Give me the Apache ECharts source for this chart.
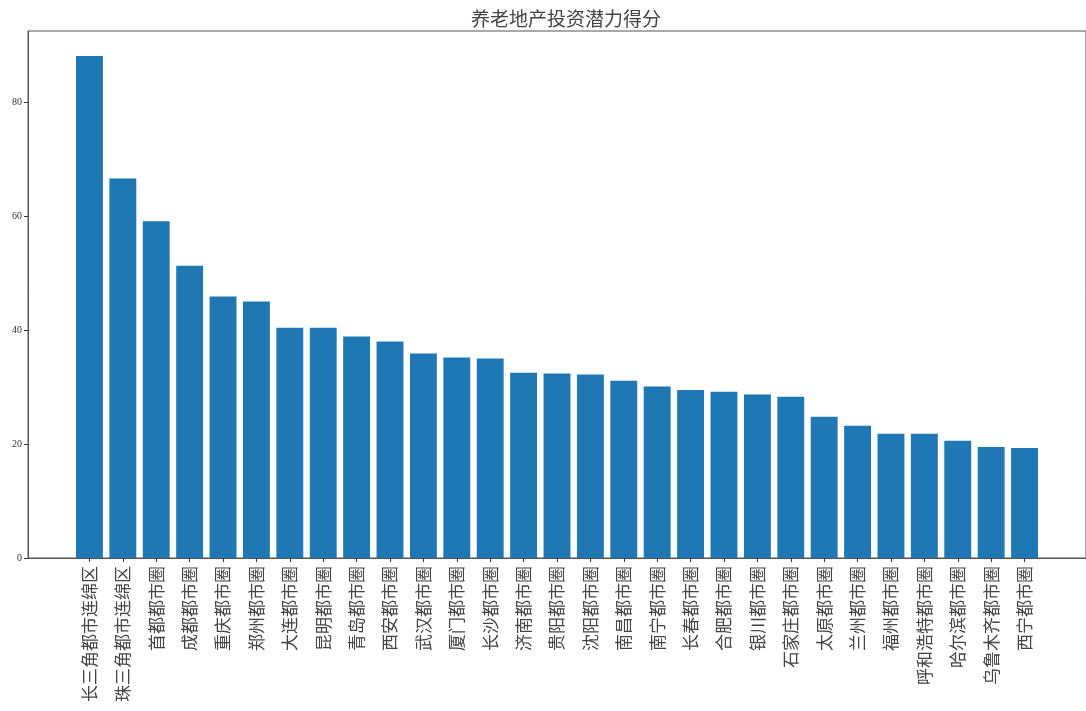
<!DOCTYPE html>
<html>
<head>
<meta charset="utf-8">
<script src="https://cdn.jsdelivr.net/npm/echarts@6/dist/echarts.min.js"></script>
<style>html,body{margin:0;padding:0;background:#fff}#c{width:1086px;height:711px}</style>
</head>
<body>
<div id="c"></div>
<script>
const titleText = '养老地产投资潜力得分';
const categories = ['长三角都市连绵区','珠三角都市连绵区','首都都市圈','成都都市圈','重庆都市圈','郑州都市圈','大连都市圈','昆明都市圈','青岛都市圈','西安都市圈','武汉都市圈','厦门都市圈','长沙都市圈','济南都市圈','贵阳都市圈','沈阳都市圈','南昌都市圈','南宁都市圈','长春都市圈','合肥都市圈','银川都市圈','石家庄都市圈','太原都市圈','兰州都市圈','福州都市圈','呼和浩特都市圈','哈尔滨都市圈','乌鲁木齐都市圈','西宁都市圈'];
const scores = [88.1,66.6,59.1,51.3,45.9,45.0,40.4,40.4,38.9,38.0,35.9,35.2,35.0,32.5,32.4,32.2,31.1,30.1,29.5,29.2,28.7,28.3,24.8,23.2,21.8,21.8,20.6,19.5,19.3];
const yTicks = [0,20,40,60,80];

const positions = categories.map((_, i) => i);
const chart = echarts.init(document.getElementById('c'));
chart.setOption({
  animation: false,
  backgroundColor: '#fff',
  title: {
    text: titleText, left: 561, top: 4, textAlign: 'center',
    textStyle: {fontFamily: 'Noto Sans CJK SC', fontSize: 19, fontWeight: 'normal', color: '#444'}
  },
  grid: {left: 28, top: 31, right: -8, bottom: 153, show: true, borderColor: '#555', borderWidth: 1, backgroundColor: 'transparent'},
  xAxis: {
    type: 'value', min: -1.84, max: categories.length - 1 + 1.84,
    splitLine: {show: false},
    axisLine: {show: true, onZero: false, lineStyle: {color: '#555'}},
    axisTick: {show: true, inside: false, length: 4, customValues: positions, lineStyle: {color: '#333'}},
    axisLabel: {
      show: true, rotate: 90, margin: 8, customValues: positions,
      formatter: v => categories[Math.round(v)] || '',
      fontFamily: 'Noto Sans CJK SC', fontSize: 17, color: '#444'
    }
  },
  yAxis: {
    type: 'value', min: 0, max: 92.5,
    splitLine: {show: false},
    axisLine: {show: true, onZero: false, lineStyle: {color: '#555'}},
    axisTick: {show: true, inside: false, length: 4, customValues: yTicks, lineStyle: {color: '#333'}},
    axisLabel: {customValues: yTicks, fontFamily: 'Liberation Serif', fontSize: 10, color: '#333', margin: 6}
  },
  series: [{
    type: 'bar',
    data: scores.map((v, i) => [positions[i], v]),
    barWidth: 26.9,
    itemStyle: {color: '#1f77b4'}
  }]
});
</script>
</body>
</html>
